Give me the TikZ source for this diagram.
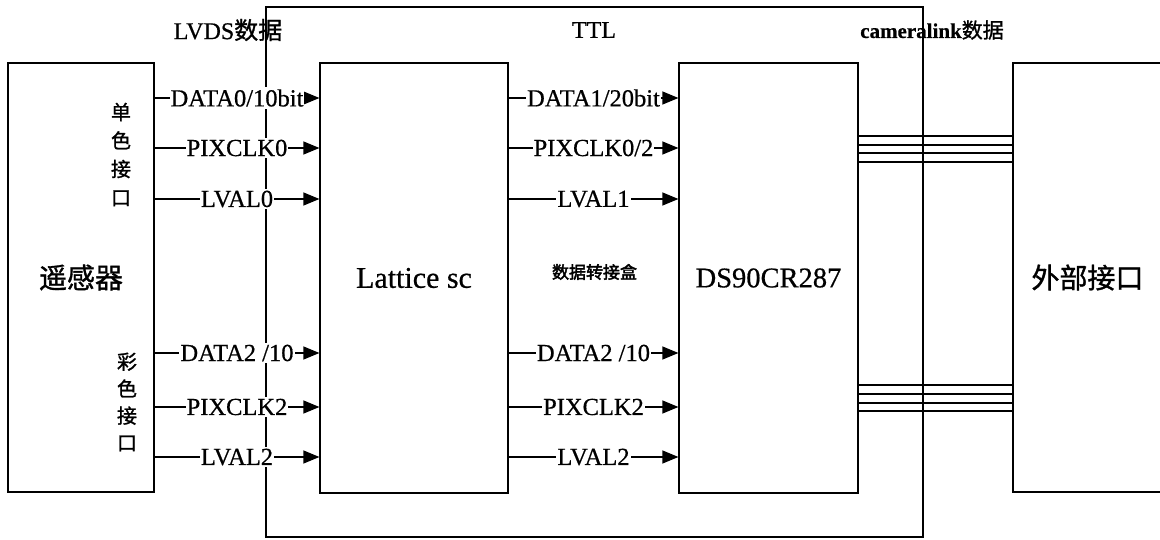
\documentclass[tikz,border=0pt]{standalone}
\usepackage{fontspec}
\setmainfont{Liberation Serif}[FakeBold=0.6]
\newfontfamily\cjk[FakeBold=1.2]{Noto Sans CJK SC}
\newfontfamily\cjkb[FakeBold=2.5]{Noto Sans CJK SC}
\usetikzlibrary{arrows.meta}
\begin{document}
\begin{tikzpicture}[x=1pt,y=-1pt,
  box/.style={draw, line width=1.2pt, inner sep=0pt},
  sig/.style={line width=1.2pt, -{Triangle[length=16pt,width=13pt]}},
  lab/.style={fill=white, inner xsep=1pt, inner ysep=2pt, font=\fontsize{24.5}{28}\selectfont},
  bus/.style={line width=1.2pt},
  toplab/.style={font=\fontsize{24}{28}\selectfont, inner sep=0pt}]
\useasboundingbox (0,0) rectangle (1160,540);
% outer frame
\node[box, line width=1.1pt, minimum width=657pt, minimum height=530pt,
      font=\cjkb\fontsize{17}{20}\selectfont] (frame) at (594.5,272) {数据转接盒};
% blocks
\node[box, minimum width=146pt, minimum height=429pt,
      font=\cjk\fontsize{28}{32}\selectfont] (sensor) at (81,277.5) {遥感器};
\node[box, fill=white, minimum width=188pt, minimum height=430pt,
      font=\fontsize{30}{34}\selectfont] (lattice) at (414,278) {Lattice sc};
\node[box, fill=white, minimum width=179pt, minimum height=430pt,
      font=\fontsize{28.5}{33}\selectfont] (ds) at (768.5,278) {DS90CR287};
\node[box, minimum width=149pt, minimum height=429pt,
      font=\cjk\fontsize{28}{32}\selectfont] (ext) at (1087.5,277.5) {外部接口};
% interface labels
\node[font=\cjk\fontsize{20}{28.5}\selectfont, align=center, inner sep=0pt] (mono) at (121,154.5) {单\\色\\接\\口};
\node[font=\cjk\fontsize{20}{27}\selectfont, align=center, inner sep=0pt] (color) at (127,402) {彩\\色\\接\\口};
% top labels
\node[toplab] (lvds) at (228,30) {LVDS{\cjk 数据}};
\node[toplab] (ttl) at (594,30) {TTL};
\node[toplab, font=\bfseries\fontsize{21}{25}\selectfont] (cl) at (932,30) {cameralink{\cjk\mdseries 数据}};
% LVDS signals
\draw[sig] (sensor.east |- 0,98) -- node[lab]{DATA0/10bit} (lattice.west |- 0,98);
\draw[sig] (sensor.east |- 0,148) -- node[lab]{PIXCLK0} (lattice.west |- 0,148);
\draw[sig] (sensor.east |- 0,199) -- node[lab]{LVAL0} (lattice.west |- 0,199);
\draw[sig] (sensor.east |- 0,353) -- node[lab]{DATA2 /10} (lattice.west |- 0,353);
\draw[sig] (sensor.east |- 0,407) -- node[lab]{PIXCLK2} (lattice.west |- 0,407);
\draw[sig] (sensor.east |- 0,457) -- node[lab]{LVAL2} (lattice.west |- 0,457);
% TTL signals
\draw[sig] (lattice.east |- 0,98) -- node[lab]{DATA1/20bit} (ds.west |- 0,98);
\draw[sig] (lattice.east |- 0,148) -- node[lab]{PIXCLK0/2} (ds.west |- 0,148);
\draw[sig] (lattice.east |- 0,199) -- node[lab]{LVAL1} (ds.west |- 0,199);
\draw[sig] (lattice.east |- 0,353) -- node[lab]{DATA2 /10} (ds.west |- 0,353);
\draw[sig] (lattice.east |- 0,407) -- node[lab]{PIXCLK2} (ds.west |- 0,407);
\draw[sig] (lattice.east |- 0,457) -- node[lab]{LVAL2} (ds.west |- 0,457);
% cameralink buses
\foreach \y in {136,145,153,162,385,394,403,411}
  \draw[bus] (ds.east |- 0,\y) -- (ext.west |- 0,\y);
\end{tikzpicture}
\end{document}
